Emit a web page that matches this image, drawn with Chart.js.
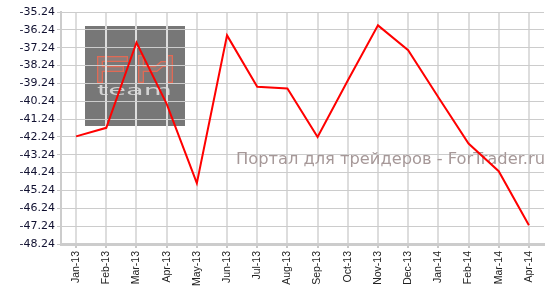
<!DOCTYPE html>
<html>
<head>
<meta charset="utf-8">
<script src="https://cdn.jsdelivr.net/npm/chart.js@4.4.1/dist/chart.umd.min.js"></script>
<style>
  html, body { margin: 0; padding: 0; background: #fff; }
  #wrap { width: 552px; height: 296px; }
</style>
</head>
<body>
<div id="wrap"><canvas id="chart" width="552" height="296"></canvas></div>
<script>
const months = ["Jan-13", "Feb-13", "Mar-13", "Apr-13", "May-13", "Jun-13", "Jul-13", "Aug-13",
  "Sep-13", "Oct-13", "Nov-13", "Dec-13", "Jan-14", "Feb-14", "Mar-14", "Apr-14"];
const values = [-42.21, -41.73, -36.95, -40.39, -44.83, -36.55, -39.43, -39.52,
  -42.24, -39.08, -35.99, -37.38, -40.02, -42.61, -44.16, -47.19];
const yMin = -48.24;
const yMax = -35.24;
const watermark = "Портал для трейдеров - ForTrader.ru";

// outlined stroke: wide colour pass, then narrower fill pass
function outline(ctx, draw, outer, inner) {
  ctx.lineCap = "square";
  ctx.lineJoin = "miter";
  ctx.strokeStyle = outer;
  ctx.lineWidth = 6;
  ctx.beginPath(); draw(); ctx.stroke();
  ctx.strokeStyle = inner;
  ctx.lineWidth = 3.4;
  ctx.beginPath(); draw(); ctx.stroke();
}

// gray logo box behind the grid
const logoBox = {
  id: "logoBox",
  beforeDraw(chart) {
    const ctx = chart.ctx;
    ctx.save();
    ctx.fillStyle = "#fff";
    ctx.fillRect(0, 0, chart.width, chart.height);
    ctx.fillStyle = "#777777";
    ctx.fillRect(85, 26, 100, 100);

    outline(ctx, () => {
      ctx.moveTo(100, 80); ctx.lineTo(100, 59); ctx.lineTo(125, 59);
      ctx.moveTo(100, 69); ctx.lineTo(121, 69);
    }, "#e06a55", "#8a7c7a");
    outline(ctx, () => {
      ctx.moveTo(141, 58); ctx.lineTo(141, 80);
      ctx.moveTo(170, 58); ctx.lineTo(170, 80);
      ctx.moveTo(141, 69); ctx.lineTo(156, 69); ctx.lineTo(162, 64); ctx.lineTo(170, 64);
    }, "#e06a55", "#8a7c7a");

    ctx.fillStyle = "#d2d2d2";
    ctx.font = "15px 'DejaVu Sans'";
    ctx.textBaseline = "alphabetic";
    const w = ctx.measureText("team").width;
    ctx.save();
    ctx.translate(97, 95);
    ctx.scale(75 / w, 0.95);
    ctx.fillText("team", 0, 0);
    ctx.restore();
    ctx.restore();
  }
};

// site watermark over the grid, under the line
const siteText = {
  id: "siteText",
  beforeDatasetsDraw(chart) {
    const ctx = chart.ctx;
    ctx.save();
    ctx.fillStyle = "#a69898";
    ctx.font = "16px 'DejaVu Sans'";
    ctx.textBaseline = "alphabetic";
    const w = ctx.measureText(watermark).width;
    ctx.translate(236, 164);
    ctx.scale(309 / w, 1);
    ctx.fillText(watermark, 0, 0);
    ctx.restore();
  }
};

new Chart(document.getElementById("chart"), {
  type: "line",
  data: {
    labels: months,
    datasets: [{
      data: values,
      borderColor: "#ff0000",
      borderWidth: 2,
      pointRadius: 0,
      tension: 0,
      fill: false
    }]
  },
  options: {
    responsive: false,
    animation: false,
    events: [],
    layout: { padding: { top: 12, right: 8, left: 0, bottom: 0 } },
    plugins: { legend: { display: false }, tooltip: { enabled: false } },
    scales: {
      x: {
        offset: true,
        grid: { offset: false, color: "#dddddd", lineWidth: 2, tickLength: 4, tickColor: "#c8c8c8" },
        border: { color: "#cccccc", width: 3 },
        ticks: {
          minRotation: 90, maxRotation: 90, autoSkip: false, padding: 3,
          color: "#222222", font: { family: "'Liberation Sans'", size: 10.5 }
        },
        afterFit(scale) { scale.height = 52; }
      },
      y: {
        min: yMin,
        max: yMax,
        grid: { color: "#cccccc", lineWidth: 1, tickLength: 4, tickColor: "#c8c8c8" },
        border: { color: "#cccccc", width: 2 },
        ticks: {
          stepSize: 1, padding: 2, color: "#101030",
          font: { family: "'DejaVu Sans'", size: 11 },
          callback: v => Number(v).toFixed(2)
        },
        afterFit(scale) { scale.width = 61; }
      }
    }
  },
  plugins: [logoBox, siteText]
});
</script>
</body>
</html>
